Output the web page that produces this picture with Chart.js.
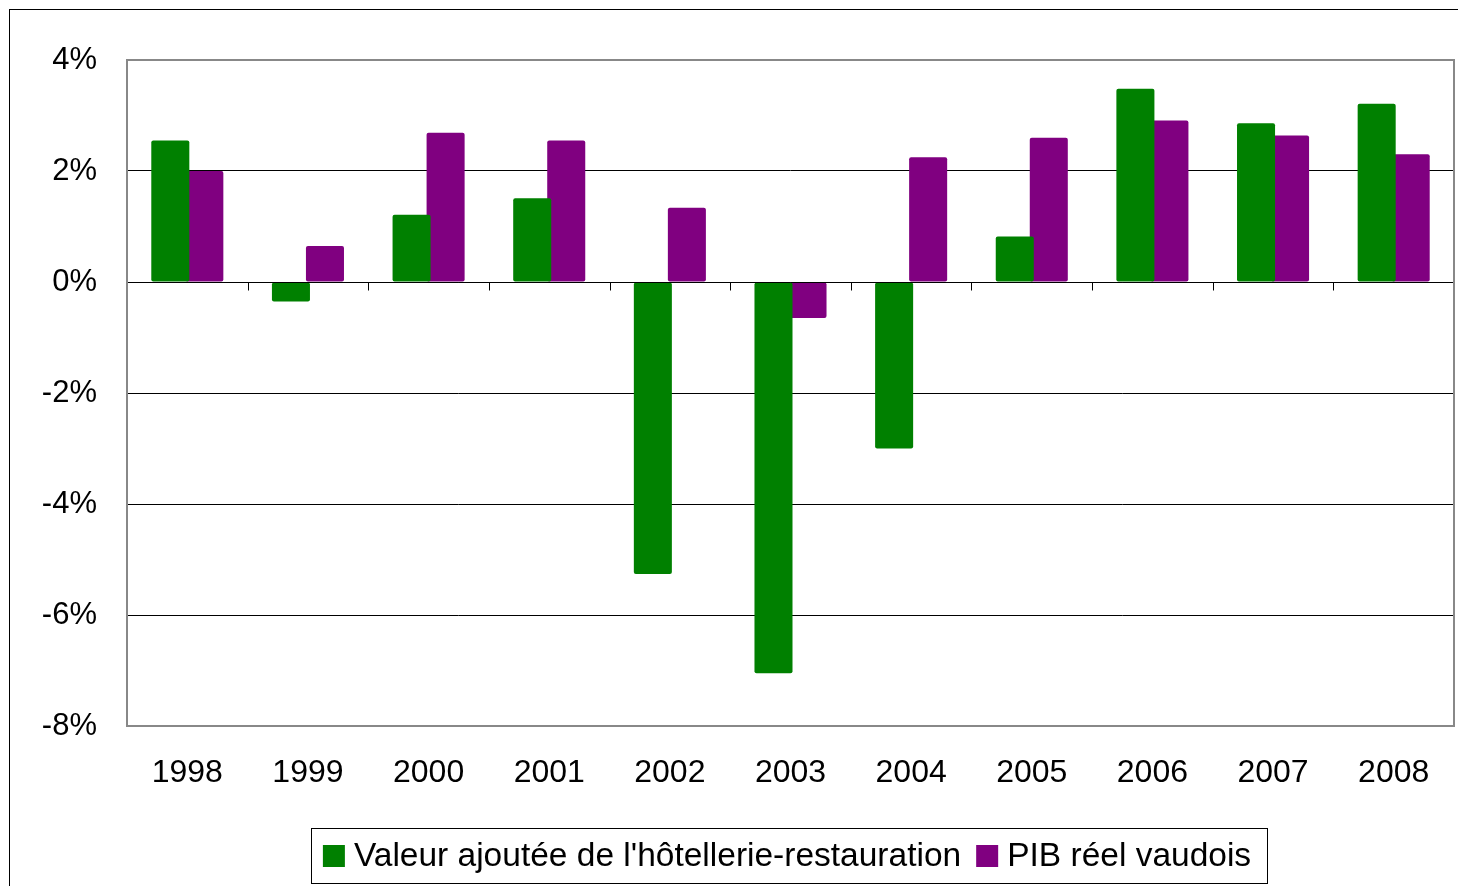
<!DOCTYPE html>
<html>
<head>
<meta charset="utf-8">
<script src="https://cdn.jsdelivr.net/npm/chart.js@4"></script>
<style>
  html, body { margin: 0; padding: 0; background: #fff; overflow: hidden; }
  #wrap { position: relative; width: 1458px; height: 886px; }
  #frame { position: absolute; left: 9px; top: 9px; width: 1460px; height: 890px;
           border-top: 1px solid #000; border-left: 1px solid #000; pointer-events: none; }
</style>
</head>
<body>
<div id="wrap">
  <canvas id="chart" width="1458" height="886"></canvas>
  <div id="frame"></div>
</div>
<script>
var years = ['1998','1999','2000','2001','2002','2003','2004','2005','2006','2007','2008'];
var hotellerie = [2.55, -0.35, 1.21, 1.51, -5.26, -7.05, -3.0, 0.82, 3.48, 2.86, 3.21];
var pibVaudois = [2.0, 0.65, 2.69, 2.55, 1.34, -0.65, 2.25, 2.60, 2.91, 2.64, 2.30];
var seriesNames = ["Valeur ajoutée de l'hôtellerie-restauration", "PIB réel vaudois"];
var seriesColors = ['#008000', '#800080'];

var font = "'Liberation Sans', Arial, sans-serif";

// plot frame, black zero line and little ticks on it
var framePlugin = {
  id: 'frame',
  beforeDatasetsDraw: function(chart) {
    var ctx = chart.ctx, a = chart.chartArea;
    var y = chart.scales.y;
    ctx.save();
    ctx.strokeStyle = '#000';
    ctx.lineWidth = 1;
    var y0 = Math.round(y.getPixelForValue(0)) + 0.5;
    for (var i = 0; i <= years.length; i++) {
      var px = Math.round(a.left + (a.right - a.left) * i / years.length) + 0.5;
      ctx.beginPath();
      ctx.moveTo(px, y0);
      ctx.lineTo(px, y0 + 8);
      ctx.stroke();
    }
    ctx.restore();
  },
  afterDatasetsDraw: function(chart) {
    var ctx = chart.ctx, a = chart.chartArea;
    var y = chart.scales.y;
    ctx.save();
    ctx.strokeStyle = '#000';
    ctx.lineWidth = 1;
    var y0 = Math.round(y.getPixelForValue(0)) + 0.5;
    ctx.beginPath();
    ctx.moveTo(a.left, y0);
    ctx.lineTo(a.right, y0);
    ctx.stroke();
    ctx.strokeStyle = '#888';
    ctx.lineWidth = 2;
    ctx.strokeRect(a.left, a.top, a.right - a.left, a.bottom - a.top);
    ctx.restore();
  },
  afterDraw: function(chart) {
    var ctx = chart.ctx;
    ctx.save();
    ctx.font = '33.5px ' + font;
    ctx.textBaseline = 'middle';
    var box = 22, gap = 9, between = 15, padL = 12, padR = 16;
    var w0 = ctx.measureText(seriesNames[0]).width;
    var w1 = ctx.measureText(seriesNames[1]).width;
    var total = padL + box + gap + w0 + between + box + gap + w1 + padR;
    var cx = 789, top = 828, h = 55;
    var left = cx - total / 2;
    ctx.strokeStyle = '#000';
    ctx.lineWidth = 1;
    ctx.strokeRect(Math.round(left) + 0.5, top + 0.5, Math.round(total), h);
    var mid = top + h / 2 + 0.5;
    var px = left + padL;
    for (var i = 0; i < 2; i++) {
      ctx.fillStyle = seriesColors[i];
      ctx.fillRect(px, mid - box / 2, box, box);
      px += box + gap;
      ctx.fillStyle = '#000';
      ctx.fillText(seriesNames[i], px, mid + 1);
      px += (i === 0 ? w0 : w1) + between;
    }
    ctx.restore();
  }
};

new Chart(document.getElementById('chart'), {
  type: 'bar',
  data: {
    labels: years,
    datasets: [
      { label: seriesNames[0], data: hotellerie, backgroundColor: seriesColors[0],
        borderRadius: 2, borderSkipped: false, categoryPercentage: 0.564, barPercentage: 1.118 },
      { label: seriesNames[1], data: pibVaudois, backgroundColor: seriesColors[1],
        borderRadius: 2, borderSkipped: false, categoryPercentage: 0.564, barPercentage: 1.118 }
    ]
  },
  options: {
    responsive: false,
    animation: false,
    layout: { padding: { top: 60, right: 4, left: 0, bottom: 0 } },
    plugins: { legend: { display: false }, tooltip: { enabled: false } },
    scales: {
      x: {
        grid: { display: false, drawTicks: false },
        border: { display: false },
        ticks: { color: '#000', font: { family: font, size: 32 }, padding: 28 },
        afterFit: function(scale) { scale.height = 160; }
      },
      y: {
        min: -8, max: 4,
        grid: {
          drawTicks: false,
          color: function(c) {
            return (c.tick.value === 4 || c.tick.value === -8) ? 'rgba(0,0,0,0)' : '#000';
          },
          lineWidth: 1
        },
        border: { display: false },
        ticks: {
          stepSize: 2, color: '#000', padding: 30,
          font: { family: font, size: 31 },
          callback: function(v) { return v + '%'; }
        },
        afterFit: function(scale) { scale.width = 127; }
      }
    }
  },
  plugins: [framePlugin]
});
</script>
</body>
</html>
